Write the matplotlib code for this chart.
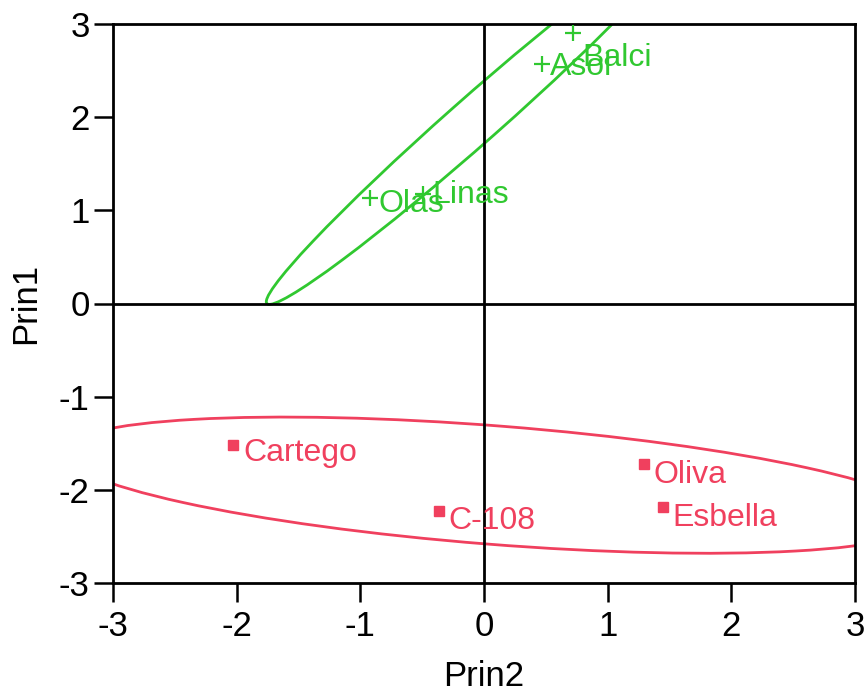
import matplotlib
matplotlib.use("Agg")
import matplotlib.pyplot as plt
from matplotlib.patches import Ellipse

plt.rcParams['font.family'] = ['Liberation Sans', 'DejaVu Sans']
plt.rcParams['axes.unicode_minus'] = False

# ---- data ----
green_names = ["Balci", "Asol", "Linas", "Olas"]
green_x = [0.72, 0.47, -0.49, -0.92]
green_y = [2.90, 2.57, 1.18, 1.13]

red_names = ["Cartego", "C-108", "Oliva", "Esbella"]
red_x = [-2.03, -0.36, 1.29, 1.45]
red_y = [-1.52, -2.23, -1.72, -2.18]

# confidence ellipses: centre, full width, full height, angle (deg)
green_ell_center = (-0.08, 1.96)
green_ell_size = (5.16, 0.44)
green_ell_angle = 49.6

red_ell_center = (0.09, -1.95)
red_ell_size = (7.04, 1.27)
red_ell_angle = -6.0

ticks = [-3, -2, -1, 0, 1, 2, 3]
x_label = "Prin2"
y_label = "Prin1"

# ---- style ----
GREEN = "#30C830"
RED = "#F0405E"
green_offsets = [(9, -33), (8, -11), (9, -9), (8, -14)]
red_offsets = [(10, -16), (9, -18), (10, -19), (9, -19)]

fig = plt.figure(figsize=(8.65, 6.95), dpi=100)
ax = fig.add_axes([113 / 865, 1 - 583 / 695, (855 - 113) / 865, (583 - 24) / 695])

ax.set_xlim(-3, 3)
ax.set_ylim(-3, 3)

ax.add_patch(Ellipse(green_ell_center, *green_ell_size, angle=green_ell_angle,
                     fill=False, edgecolor=GREEN, lw=2.0, zorder=2))
ax.add_patch(Ellipse(red_ell_center, *red_ell_size, angle=red_ell_angle,
                     fill=False, edgecolor=RED, lw=2.0, zorder=2))

ax.axhline(0, color='black', lw=2.0, zorder=2.5)
ax.axvline(0, color='black', lw=2.0, zorder=2.5)

ax.plot(green_x, green_y, linestyle='none', marker='+', markersize=11,
        markeredgewidth=1.6, color=GREEN, zorder=3)
ax.plot(red_x, red_y, linestyle='none', marker='s', markersize=6.5,
        color=RED, zorder=3)

for n, x, y, off in zip(green_names, green_x, green_y, green_offsets):
    ax.annotate(n, (x, y), xytext=off, textcoords='offset pixels', ha='left',
                va='baseline', fontsize=23, color=GREEN, zorder=4)
for n, x, y, off in zip(red_names, red_x, red_y, red_offsets):
    ax.annotate(n, (x, y), xytext=off, textcoords='offset pixels', ha='left',
                va='baseline', fontsize=23, color=RED, zorder=4)

ax.set_xticks(ticks)
ax.set_yticks(ticks)
ax.set_xticklabels([str(t) for t in ticks])
ax.set_yticklabels([str(t) for t in ticks])
ax.tick_params(axis='both', direction='out', length=13.7, width=1.8,
               labelsize=25, color='black')
ax.tick_params(axis='x', pad=6)
ax.tick_params(axis='y', pad=3)

for s in ax.spines.values():
    s.set_linewidth(2.0)
    s.set_color('black')

ax.set_xlabel(x_label, fontsize=25, labelpad=12)
ax.set_ylabel(y_label, fontsize=25, labelpad=12)

fig.savefig("out.png", dpi=100)
